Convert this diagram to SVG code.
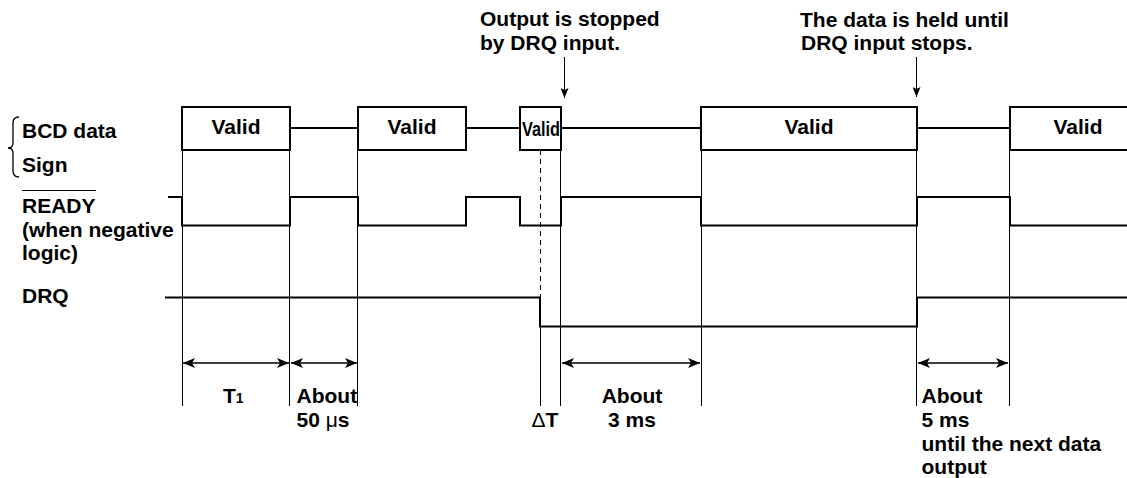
<svg xmlns="http://www.w3.org/2000/svg" width="1127" height="478" viewBox="0 0 1127 478">
<style>
text{font-family:"Liberation Sans",Arial,Helvetica,sans-serif;font-weight:bold;font-size:21px;fill:#000}
.sig{fill:none;stroke:#000;stroke-width:2}
.box{fill:#fff;stroke:#000;stroke-width:2}
.guide{fill:none;stroke:#000;stroke-width:1}
.dash{fill:none;stroke:#000;stroke-width:1;stroke-dasharray:5 4}
.dim{fill:none;stroke:#000;stroke-width:1.5}
.note{fill:none;stroke:#000;stroke-width:1}
</style>
<defs>
<marker id="ah" viewBox="0 0 12 10" refX="12" refY="5" markerWidth="12" markerHeight="10" markerUnits="userSpaceOnUse" orient="auto-start-reverse">
<path d="M0,0 L12,5 L0,10 L3,5 Z" fill="#000"/>
</marker>
<marker id="ahs" viewBox="0 0 10 8" refX="10" refY="4" markerWidth="10" markerHeight="8" markerUnits="userSpaceOnUse" orient="auto">
<path d="M0,0 L10,4 L0,8 L2,4 Z" fill="#000"/>
</marker>
</defs>
<rect width="1127" height="478" fill="#fff"/>

<g id="labels">
<path d="M19,117 Q13,117 13,123 L13,143 Q13,148 8,148 Q13,148 13,153 L13,171 Q13,177 19,177" fill="none" stroke="#000" stroke-width="1.3"/>
<text x="22" y="138">BCD data</text>
<text x="22" y="171.5">Sign</text>
<line x1="22" y1="190.5" x2="96" y2="190.5" stroke="#000" stroke-width="1"/>
<text x="22" y="213">READY</text>
<text x="22" y="236.5">(when negative</text>
<text x="22" y="260">logic)</text>
<text x="22" y="303">DRQ</text>
</g>

<g id="guides">
<line class="guide" x1="182.5" y1="150" x2="182.5" y2="406"/>
<line class="guide" x1="289.5" y1="150" x2="289.5" y2="406"/>
<line class="guide" x1="357.5" y1="150" x2="357.5" y2="406"/>
<line class="dash" x1="540.5" y1="150" x2="540.5" y2="297"/>
<line class="guide" x1="540.5" y1="326" x2="540.5" y2="406"/>
<line class="guide" x1="560.5" y1="150" x2="560.5" y2="406"/>
<line class="guide" x1="701.5" y1="150" x2="701.5" y2="406"/>
<line class="guide" x1="916.5" y1="150" x2="916.5" y2="406"/>
<line class="guide" x1="1009.5" y1="150" x2="1009.5" y2="406"/>
</g>

<g id="bcd-data">
<path class="sig" d="M290,128 H358 M466,128 H520 M561,128 H701 M917,128 H1010"/>
<rect class="box" x="182" y="107" width="108" height="43"/>
<rect class="box" x="358" y="107" width="108" height="43"/>
<rect class="box" x="520" y="107" width="41" height="43"/>
<rect class="box" x="701" y="107" width="216" height="43"/>
<path class="sig" d="M1130,107 H1010 V150 H1130"/>
<text x="236" y="133.5" text-anchor="middle">Valid</text>
<text x="412" y="133.5" text-anchor="middle">Valid</text>
<text x="522" y="135.5" font-size="18" textLength="38" lengthAdjust="spacingAndGlyphs">Valid</text>
<text x="809" y="133.5" text-anchor="middle">Valid</text>
<text x="1078" y="133.5" text-anchor="middle">Valid</text>
</g>

<g id="ready">
<path class="sig" d="M168,197 H182 V225.5 H290 V197 H358 V225.5 H466 V197 H520 V225.5 H561 V197 H701 V225.5 H917 V197 H1010 V225.5 H1127"/>
</g>

<g id="drq">
<path class="sig" d="M165,297.5 H540 V326.5 H917 V297.5 H1127"/>
</g>

<g id="connectors">
<line class="note" x1="564.5" y1="57" x2="564.5" y2="98" marker-end="url(#ahs)"/>
<line class="note" x1="916.5" y1="57" x2="916.5" y2="97" marker-end="url(#ahs)"/>
<line class="dim" x1="183" y1="363" x2="289" y2="363" marker-start="url(#ah)" marker-end="url(#ah)"/>
<line class="dim" x1="291" y1="363" x2="357" y2="363" marker-start="url(#ah)" marker-end="url(#ah)"/>
<line class="dim" x1="562" y1="363" x2="700" y2="363" marker-start="url(#ah)" marker-end="url(#ah)"/>
<line class="dim" x1="918" y1="363" x2="1008" y2="363" marker-start="url(#ah)" marker-end="url(#ah)"/>
</g>

<g id="notes">
<text x="480" y="26">Output is stopped</text>
<text x="480" y="50">by DRQ input.</text>
<text x="800" y="26.5">The data is held until</text>
<text x="801" y="50">DRQ input stops.</text>
</g>

<g id="timing-labels">
<text x="223" y="403">T<tspan font-size="14">1</tspan></text>
<text x="296.5" y="403">About</text>
<text x="296.5" y="427">50 <tspan font-weight="normal">μ</tspan>s</text>
<text x="531.5" y="427"><tspan font-weight="normal">Δ</tspan>T</text>
<text x="632" y="403" text-anchor="middle">About</text>
<text x="632" y="427" text-anchor="middle">3 ms</text>
<text x="921.5" y="403">About</text>
<text x="921.5" y="426.5">5 ms</text>
<text x="921.5" y="451">until the next data</text>
<text x="921.5" y="474">output</text>
</g>
</svg>
